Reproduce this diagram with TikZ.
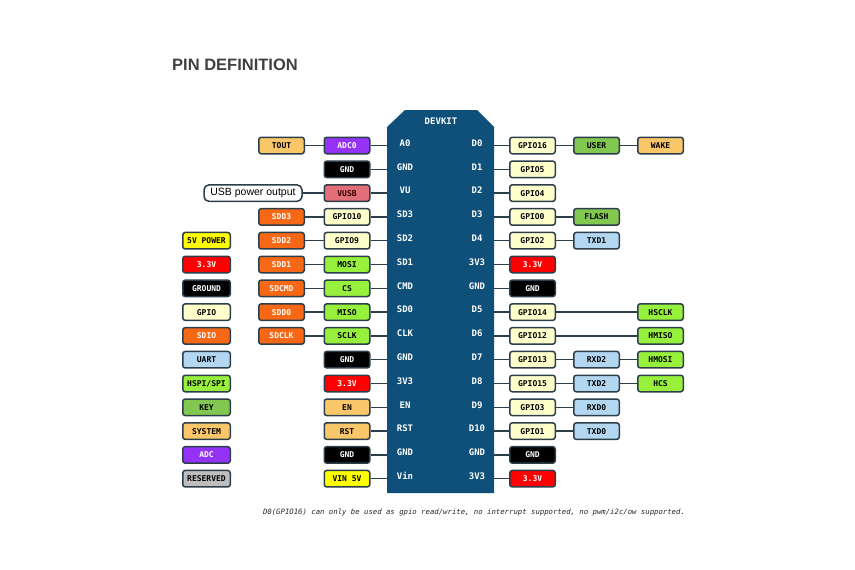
\documentclass[tikz,border=0pt]{standalone}
\usepackage{fontspec}
\setmainfont{Liberation Sans}
\newfontfamily\pinfont{DejaVu Sans Mono}
\usepackage{xcolor}
\definecolor{myboard}{RGB}{14,80,121}
\definecolor{myedge}{RGB}{44,62,74}
\definecolor{mytitle}{RGB}{64,64,64}
\definecolor{mygpio}{RGB}{255,255,204}
\definecolor{mysdio}{RGB}{247,104,22}
\definecolor{mysys}{RGB}{250,198,106}
\definecolor{myadc}{RGB}{148,51,245}
\definecolor{mypow}{RGB}{255,0,0}
\definecolor{myfive}{RGB}{255,255,0}
\definecolor{myuart}{RGB}{179,215,240}
\definecolor{myspi}{RGB}{150,240,60}
\definecolor{mykey}{RGB}{130,200,80}
\definecolor{myres}{RGB}{190,190,190}
\definecolor{myvusb}{RGB}{226,110,120}

\tikzset{
  pinbox/.style={draw=myedge, line width=1.5pt, rounded corners=2.5pt, rectangle,
    minimum width=45.5pt, minimum height=16.5pt, inner sep=0pt,
    font=\pinfont\bfseries\fontsize{8}{9}\selectfont},
  gpiobox/.style={pinbox, fill=mygpio},
  sdiobox/.style={pinbox, fill=mysdio, text=white},
  sysbox/.style={pinbox, fill=mysys},
  adcbox/.style={pinbox, fill=myadc, text=white},
  gndbox/.style={pinbox, fill=black, text=white},
  powbox/.style={pinbox, fill=mypow, text=white},
  fivebox/.style={pinbox, fill=myfive},
  uartbox/.style={pinbox, fill=myuart},
  spibox/.style={pinbox, fill=myspi},
  keybox/.style={pinbox, fill=mykey},
  resbox/.style={pinbox, fill=myres},
  vusbbox/.style={pinbox, fill=myvusb, text=black!80!red},
  legend/.style={minimum width=47.5pt},
  pinlabel/.style={text=white, inner sep=0pt, font=\pinfont\bfseries\fontsize{9}{10}\selectfont},
  wire/.style={draw=myedge, line width=1.3pt}
}

\begin{document}
\begin{tikzpicture}[x=1pt, y=-1pt]
  \useasboundingbox (0,0) rectangle (855,570);

  % title
  \node[inner sep=0pt, text=mytitle, font=\bfseries\fontsize{16.5}{18}\selectfont] (title) at (235,65) {PIN DEFINITION};

  % board
  \fill[myboard] (387,127) -- (405,110) -- (477,110) -- (494,127) -- (494,493) -- (387,493) -- cycle;
  \node[pinlabel] (devkit) at (441,121) {DEVKIT};

  % board pins left
  \node[pinlabel] (lp0) at (405,143.0) {A0};
  \node[pinlabel] (lp1) at (405,166.8) {GND};
  \node[pinlabel] (lp2) at (405,190.6) {VU};
  \node[pinlabel] (lp3) at (405,214.4) {SD3};
  \node[pinlabel] (lp4) at (405,238.2) {SD2};
  \node[pinlabel] (lp5) at (405,262.0) {SD1};
  \node[pinlabel] (lp6) at (405,285.8) {CMD};
  \node[pinlabel] (lp7) at (405,309.6) {SD0};
  \node[pinlabel] (lp8) at (405,333.4) {CLK};
  \node[pinlabel] (lp9) at (405,357.2) {GND};
  \node[pinlabel] (lp10) at (405,381.0) {3V3};
  \node[pinlabel] (lp11) at (405,404.8) {EN};
  \node[pinlabel] (lp12) at (405,428.6) {RST};
  \node[pinlabel] (lp13) at (405,452.4) {GND};
  \node[pinlabel] (lp14) at (405,476.2) {Vin};

  % board pins right
  \node[pinlabel] (rp0) at (477,143.0) {D0};
  \node[pinlabel] (rp1) at (477,166.8) {D1};
  \node[pinlabel] (rp2) at (477,190.6) {D2};
  \node[pinlabel] (rp3) at (477,214.4) {D3};
  \node[pinlabel] (rp4) at (477,238.2) {D4};
  \node[pinlabel] (rp5) at (477,262.0) {3V3};
  \node[pinlabel] (rp6) at (477,285.8) {GND};
  \node[pinlabel] (rp7) at (477,309.6) {D5};
  \node[pinlabel] (rp8) at (477,333.4) {D6};
  \node[pinlabel] (rp9) at (477,357.2) {D7};
  \node[pinlabel] (rp10) at (477,381.0) {D8};
  \node[pinlabel] (rp11) at (477,404.8) {D9};
  \node[pinlabel] (rp12) at (477,428.6) {D10};
  \node[pinlabel] (rp13) at (477,452.4) {GND};
  \node[pinlabel] (rp14) at (477,476.2) {3V3};

  % board edges
  \coordinate (el0) at (387,145.5);  \coordinate (er0) at (494,145.5);
  \coordinate (el1) at (387,169.3);  \coordinate (er1) at (494,169.3);
  \coordinate (el2) at (387,193.1);  \coordinate (er2) at (494,193.1);
  \coordinate (el3) at (387,216.9);  \coordinate (er3) at (494,216.9);
  \coordinate (el4) at (387,240.7);  \coordinate (er4) at (494,240.7);
  \coordinate (el5) at (387,264.5);  \coordinate (er5) at (494,264.5);
  \coordinate (el6) at (387,288.3);  \coordinate (er6) at (494,288.3);
  \coordinate (el7) at (387,312.1);  \coordinate (er7) at (494,312.1);
  \coordinate (el8) at (387,335.9);  \coordinate (er8) at (494,335.9);
  \coordinate (el9) at (387,359.7);  \coordinate (er9) at (494,359.7);
  \coordinate (el10) at (387,383.5); \coordinate (er10) at (494,383.5);
  \coordinate (el11) at (387,407.3); \coordinate (er11) at (494,407.3);
  \coordinate (el12) at (387,431.1); \coordinate (er12) at (494,431.1);
  \coordinate (el13) at (387,454.9); \coordinate (er13) at (494,454.9);
  \coordinate (el14) at (387,478.7); \coordinate (er14) at (494,478.7);

  % left inner column
  \node[adcbox] (li0) at (347,145.5) {ADC0};
  \node[gndbox] (li1) at (347,169.3) {GND};
  \node[vusbbox] (li2) at (347,193.1) {VUSB};
  \node[gpiobox] (li3) at (347,216.9) {GPIO10};
  \node[gpiobox] (li4) at (347,240.7) {GPIO9};
  \node[spibox] (li5) at (347,264.5) {MOSI};
  \node[spibox] (li6) at (347,288.3) {CS};
  \node[spibox] (li7) at (347,312.1) {MISO};
  \node[spibox] (li8) at (347,335.9) {SCLK};
  \node[gndbox] (li9) at (347,359.7) {GND};
  \node[powbox] (li10) at (347,383.5) {3.3V};
  \node[sysbox] (li11) at (347,407.3) {EN};
  \node[sysbox] (li12) at (347,431.1) {RST};
  \node[gndbox] (li13) at (347,454.9) {GND};
  \node[fivebox] (li14) at (347,478.7) {VIN 5V};

  % left outer column
  \node[sysbox] (lo0) at (281.5,145.5) {TOUT};
  \node[draw=myedge, line width=1.5pt, rounded corners=5pt, fill=white, minimum width=98pt,
    minimum height=16.5pt, inner sep=0pt, font=\fontsize{10.5}{12}\selectfont] (lo2) at (253,193.1) {USB power output};
  \node[sdiobox] (lo3) at (281.5,216.9) {SDD3};
  \node[sdiobox] (lo4) at (281.5,240.7) {SDD2};
  \node[sdiobox] (lo5) at (281.5,264.5) {SDD1};
  \node[sdiobox] (lo6) at (281.5,288.3) {SDCMD};
  \node[sdiobox] (lo7) at (281.5,312.1) {SDD0};
  \node[sdiobox] (lo8) at (281.5,335.9) {SDCLK};

  \draw[wire] (el0) -- (li0) -- (lo0);
  \draw[wire] (el1) -- (li1);
  \draw[wire] (el2) -- (li2) -- (lo2);
  \draw[wire] (el3) -- (li3) -- (lo3);
  \draw[wire] (el4) -- (li4) -- (lo4);
  \draw[wire] (el5) -- (li5) -- (lo5);
  \draw[wire] (el6) -- (li6) -- (lo6);
  \draw[wire] (el7) -- (li7) -- (lo7);
  \draw[wire] (el8) -- (li8) -- (lo8);
  \draw[wire] (el9) -- (li9);
  \draw[wire] (el10) -- (li10);
  \draw[wire] (el11) -- (li11);
  \draw[wire] (el12) -- (li12);
  \draw[wire] (el13) -- (li13);
  \draw[wire] (el14) -- (li14);

  % right columns
  \node[gpiobox] (ra0) at (532.5,145.5) {GPIO16};
  \node[keybox] (rb0) at (596.5,145.5) {USER};
  \node[sysbox] (rc0) at (660.5,145.5) {WAKE};
  \node[gpiobox] (ra1) at (532.5,169.3) {GPIO5};
  \node[gpiobox] (ra2) at (532.5,193.1) {GPIO4};
  \node[gpiobox] (ra3) at (532.5,216.9) {GPIO0};
  \node[keybox] (rb3) at (596.5,216.9) {FLASH};
  \node[gpiobox] (ra4) at (532.5,240.7) {GPIO2};
  \node[uartbox] (rb4) at (596.5,240.7) {TXD1};
  \node[powbox] (ra5) at (532.5,264.5) {3.3V};
  \node[gndbox] (ra6) at (532.5,288.3) {GND};
  \node[gpiobox] (ra7) at (532.5,312.1) {GPIO14};
  \node[spibox] (rc7) at (660.5,312.1) {HSCLK};
  \node[gpiobox] (ra8) at (532.5,335.9) {GPIO12};
  \node[spibox] (rc8) at (660.5,335.9) {HMISO};
  \node[gpiobox] (ra9) at (532.5,359.7) {GPIO13};
  \node[uartbox] (rb9) at (596.5,359.7) {RXD2};
  \node[spibox] (rc9) at (660.5,359.7) {HMOSI};
  \node[gpiobox] (ra10) at (532.5,383.5) {GPIO15};
  \node[uartbox] (rb10) at (596.5,383.5) {TXD2};
  \node[spibox] (rc10) at (660.5,383.5) {HCS};
  \node[gpiobox] (ra11) at (532.5,407.3) {GPIO3};
  \node[uartbox] (rb11) at (596.5,407.3) {RXD0};
  \node[gpiobox] (ra12) at (532.5,431.1) {GPIO1};
  \node[uartbox] (rb12) at (596.5,431.1) {TXD0};
  \node[gndbox] (ra13) at (532.5,454.9) {GND};
  \node[powbox] (ra14) at (532.5,478.7) {3.3V};

  \draw[wire] (er0) -- (ra0) -- (rb0) -- (rc0);
  \draw[wire] (er1) -- (ra1);
  \draw[wire] (er2) -- (ra2);
  \draw[wire] (er3) -- (ra3) -- (rb3);
  \draw[wire] (er4) -- (ra4) -- (rb4);
  \draw[wire] (er5) -- (ra5);
  \draw[wire] (er6) -- (ra6);
  \draw[wire] (er7) -- (ra7) -- (rc7);
  \draw[wire] (er8) -- (ra8) -- (rc8);
  \draw[wire] (er9) -- (ra9) -- (rb9) -- (rc9);
  \draw[wire] (er10) -- (ra10) -- (rb10) -- (rc10);
  \draw[wire] (er11) -- (ra11) -- (rb11);
  \draw[wire] (er12) -- (ra12) -- (rb12);
  \draw[wire] (er13) -- (ra13);
  \draw[wire] (er14) -- (ra14);

  % legend
  \node[fivebox, legend] (lg4) at (206.5,240.7) {5V POWER};
  \node[powbox, legend] (lg5) at (206.5,264.5) {3.3V};
  \node[gndbox, legend] (lg6) at (206.5,288.3) {GROUND};
  \node[gpiobox, legend] (lg7) at (206.5,312.1) {GPIO};
  \node[sdiobox, legend] (lg8) at (206.5,335.9) {SDIO};
  \node[uartbox, legend] (lg9) at (206.5,359.7) {UART};
  \node[spibox, legend] (lg10) at (206.5,383.5) {HSPI/SPI};
  \node[keybox, legend] (lg11) at (206.5,407.3) {KEY};
  \node[sysbox, legend] (lg12) at (206.5,431.1) {SYSTEM};
  \node[adcbox, legend] (lg13) at (206.5,454.9) {ADC};
  \node[resbox, legend] (lg14) at (206.5,478.7) {RESERVED};

  % note
  \node[inner sep=0pt, text=black!85, font=\pinfont\itshape\fontsize{7.3}{9}\selectfont] (note) at (474,512)
    {D0(GPIO16) can only be used as gpio read/write, no interrupt supported, no pwm/i2c/ow supported.};
\end{tikzpicture}
\end{document}
